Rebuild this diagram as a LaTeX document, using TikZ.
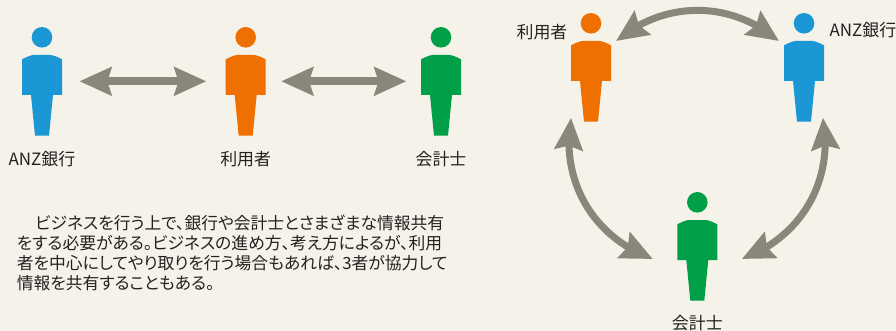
\documentclass[tikz,border=0pt]{standalone}
\usepackage{fontspec}
\setmainfont[RawFeature=+palt]{Noto Sans CJK JP}
\usepackage{xcolor}
\usetikzlibrary{arrows.meta,positioning,bending}
\definecolor{bgcol}{HTML}{F5F2E9}
\definecolor{bankcol}{HTML}{1B97D6}
\definecolor{usercol}{HTML}{EF7000}
\definecolor{cpacol}{HTML}{009F48}
\definecolor{arrowcol}{HTML}{88877A}
\definecolor{txtcol}{HTML}{222222}
\tikzset{
  personbox/.style={inner sep=0pt,minimum width=22.68pt,minimum height=61.6pt},
  biarrow/.style={line width=4.4pt,draw=arrowcol,{Stealth[length=18.1pt,width=15.9pt,inset=2.3pt]}-{Stealth[length=18.1pt,width=15.9pt,inset=2.3pt]}},
  arcarrow/.style={line width=4pt,draw=arrowcol,{Stealth[length=18.1pt,width=15.9pt,inset=2.3pt,flex=1]}-{Stealth[length=18.1pt,width=15.9pt,inset=2.3pt,flex=1]}},
  lbl/.style={inner sep=0pt,text=txtcol,font=\fontsize{9.65pt}{11.2pt}\selectfont},
}
% name, x, y of the centre, colour
\newcommand{\person}[4]{
\node[personbox] (#1) at (#2,#3) {};
\fill[#4] (#2,#3-44) circle (10.3);
\fill[#4] (#2-20,#3-22) .. controls (#2-15,#3-24.5) and (#2-11,#3-26.3) .. (#2-8,#3-26.3) -- (#2+8,#3-26.3) .. controls (#2+11,#3-26.3) and (#2+15,#3-24.5) .. (#2+20,#3-22) -- (#2+20,#3+13.7) -- (#2+11,#3+13.7) -- (#2+7,#3+54.4) -- (#2-7,#3+54.4) -- (#2-11,#3+13.7) -- (#2-20,#3+13.7) -- cycle;
}
\begin{document}
\begin{tikzpicture}[x=0.02cm,y=-0.02cm]
\fill[bgcol] (0,0) rectangle (896,331);
\useasboundingbox (0,0) rectangle (896,331);
%
\person{bankA}{42}{81.3}{bankcol}
\person{userA}{245.7}{81.3}{usercol}
\person{cpaA}{441}{81.3}{cpacol}
\node[lbl] (bankAtxt) at (42,159.3) {ANZ銀行};
\node[lbl] (userAtxt) at (245.7,159.3) {利用者};
\node[lbl] (cpaAtxt) at (441,159.3) {会計士};
\draw[biarrow,shorten <=9.8pt,shorten >=10.9pt] (bankA) -- (userA);
\draw[biarrow,shorten <=8.7pt,shorten >=8.2pt] (userA) -- (cpaA);
%
\person{userB}{591}{67.3}{usercol}
\person{bankB}{804}{67.3}{bankcol}
\person{cpaB}{697.3}{246.3}{cpacol}
\node[lbl] (userBtxt) at (542,32.3) {利用者};
\node[lbl] (bankBtxt) at (863,30.3) {ANZ銀行};
\node[lbl] (cpaBtxt) at (697.3,323.3) {会計士};
\draw[arcarrow] ([shift={(25,-26.3)}]userB.center) to[bend left=40] ([shift={(-25,-26.3)}]bankB.center);
\draw[arcarrow] ([shift={(-20,50.5)}]userB.center) to[bend right=40] ([shift={(-44.5,12.7)}]cpaB.center);
\draw[arcarrow] ([shift={(19,50.5)}]bankB.center) to[bend left=40] ([shift={(44.5,12.7)}]cpaB.center);
%
\node[lbl,anchor=north west,align=left,font=\fontsize{9.55pt}{11.25pt}\selectfont] (para) at (16.5,215) {\hspace{1.1em}ビジネスを行う上で、銀行や会計士とさまざまな情報共有\\をする必要がある。ビジネスの進め方、考え方によるが、利用\\者を中心にしてやり取りを行う場合もあれば、3者が協力して\\情報を共有することもある。};
\end{tikzpicture}
\end{document}
